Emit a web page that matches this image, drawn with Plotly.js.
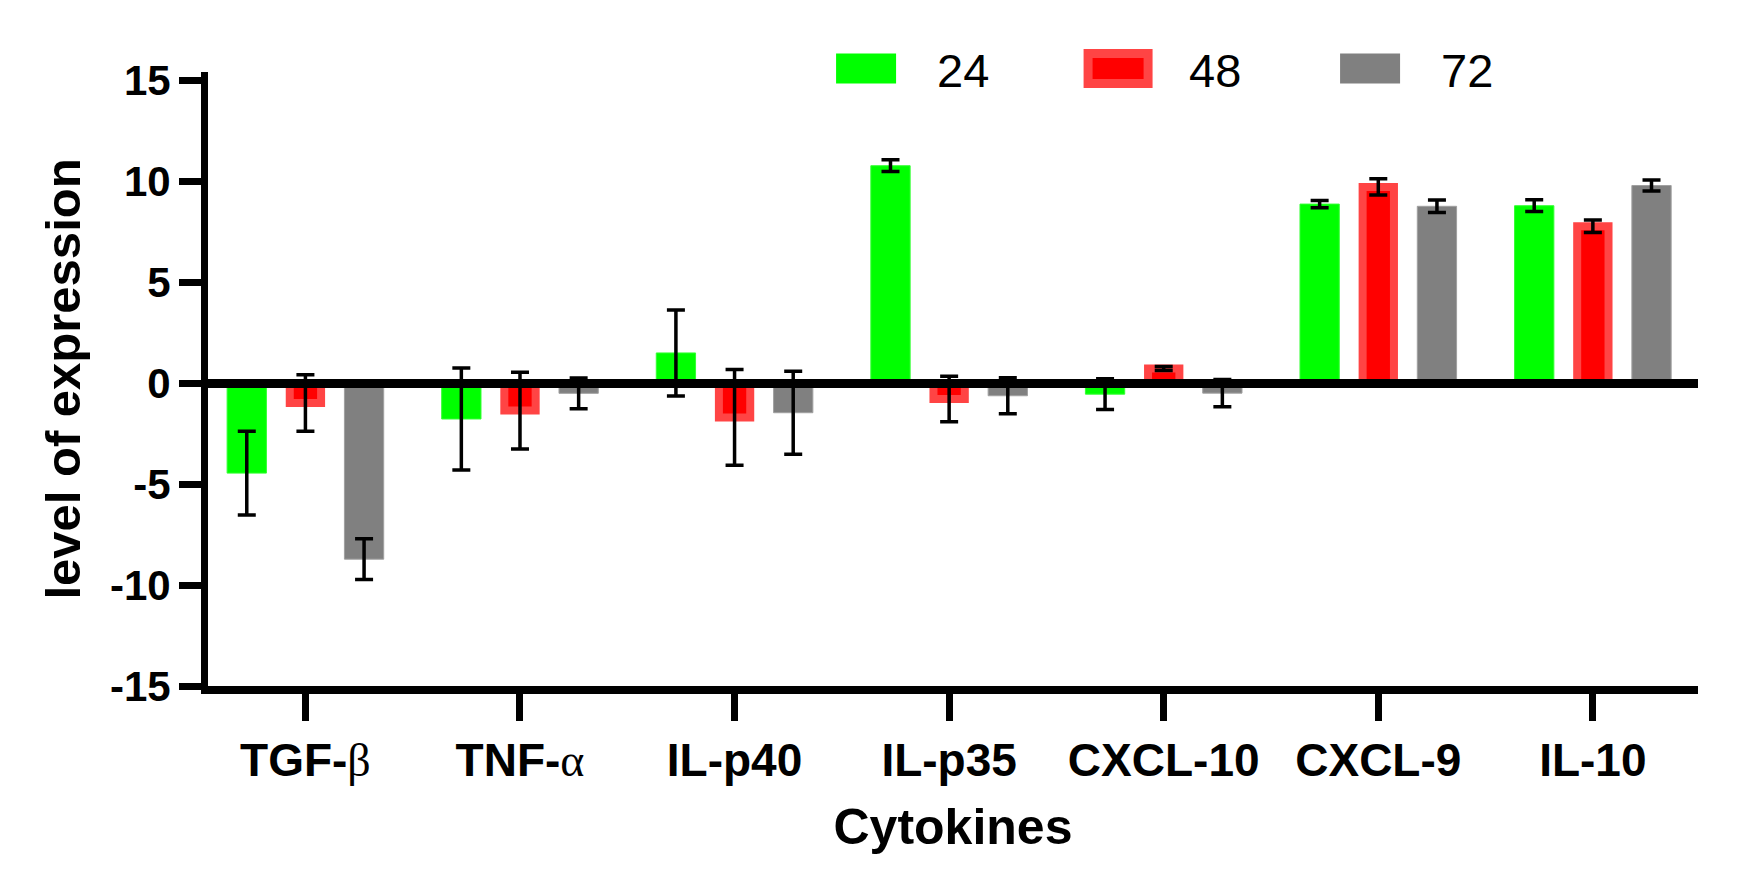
<!DOCTYPE html>
<html>
<head>
<meta charset="utf-8">
<script src="https://cdn.plot.ly/plotly-3.0.1.min.js"></script>
<style>
  html, body { margin: 0; padding: 0; background: #ffffff; }
  #chart { width: 1737px; height: 874px; }
</style>
</head>
<body>
<div id="chart"></div>
<script>
// ---- data ----
const categories = ['TGF-β', 'TNF-α', 'IL-p40', 'IL-p35', 'CXCL-10', 'CXCL-9', 'IL-10'];
const tickLabels = [
  'TGF-<span style="font-family:Liberation Serif;font-weight:normal">β</span>',
  'TNF-<span style="font-family:Liberation Serif;font-weight:normal">α</span>',
  'IL-p40', 'IL-p35', 'CXCL-10', 'CXCL-9', 'IL-10'
];
const seriesNames = ['24', '48', '72'];
const values24 = [-4.46, -1.78, 1.49, 10.76, -0.55, 8.86, 8.78];
const errors24 = [2.07, 2.52, 2.13, 0.29, 0.76, 0.18, 0.29];
const values48 = [-0.99, -1.36, -1.70, -0.79, 0.72, 9.71, 7.76];
const errors48 = [1.40, 1.90, 2.37, 1.13, 0.10, 0.40, 0.31];
const values72 = [-8.72, -0.51, -1.47, -0.63, -0.50, 8.75, 9.78];
const errors72 = [1.01, 0.76, 2.05, 0.89, 0.67, 0.31, 0.27];
const yTicks = [-15, -10, -5, 0, 5, 10, 15];

const FONT = 'Liberation Sans, Arial, Helvetica, sans-serif';
const errStyle = (arr) => ({type: 'data', array: arr, visible: true, color: '#000000', thickness: 3.5, width: 9});

const data = [
  {type: 'bar', name: seriesNames[0], x: categories, y: values24, error_y: errStyle(errors24),
   marker: {color: '#00ff00', line: {color: '#33ff33', width: 1}}},
  {type: 'bar', name: seriesNames[1], x: categories, y: values48, error_y: errStyle(errors48),
   width: 0.146,
   marker: {color: '#ff0000', line: {color: '#ff4444', width: 8}}},
  {type: 'bar', name: seriesNames[2], x: categories, y: values72, error_y: errStyle(errors72),
   marker: {color: '#808080', line: {color: '#a0a0a0', width: 1}}}
];

const layout = {
  width: 1737, height: 874,
  margin: {l: 208, r: 39, t: 72, b: 188, pad: 0},
  paper_bgcolor: '#ffffff', plot_bgcolor: '#ffffff',
  font: {family: FONT, color: '#000000'},
  barmode: 'group', bargap: 0.18, bargroupgap: 0.33,
  showlegend: true,
  legend: {
    orientation: 'h', x: 0.4175, xanchor: 'left', y: 1.005, yanchor: 'middle',
    font: {family: FONT, size: 47, color: '#000000'},
    itemwidth: 97, entrywidth: 140, entrywidthmode: 'pixels',
    bgcolor: 'rgba(0,0,0,0)', borderwidth: 0, traceorder: 'normal'
  },
  xaxis: {
    type: 'category', range: [-0.454, 6.49], tickvals: categories, ticktext: tickLabels,
    showline: true, linewidth: 8, linecolor: '#000000', mirror: false,
    ticks: 'outside', ticklen: 27, tickwidth: 7, tickcolor: '#000000',
    tickfont: {family: FONT, size: 46, weight: 'bold', color: '#000000'},
    showgrid: false, zeroline: false, automargin: false,
    title: {text: 'Cytokines', font: {family: FONT, size: 50, weight: 'bold', color: '#000000'}, standoff: 27}
  },
  yaxis: {
    range: [-15, 15.4], tickvals: yTicks, ticktext: yTicks.map(String),
    showline: true, linewidth: 7, linecolor: '#000000',
    ticks: 'outside', ticklen: 22, tickwidth: 7, tickcolor: '#000000',
    tickfont: {family: FONT, size: 42, weight: 'bold', color: '#000000'},
    showgrid: false, zeroline: true, zerolinewidth: 9, zerolinecolor: '#000000',
    zerolinelayer: 'above traces', automargin: false,
    title: {text: 'level of expression', font: {family: FONT, size: 49, weight: 'bold', color: '#000000'}, standoff: 16}
  }
};

Plotly.newPlot('chart', data, layout, {staticPlot: true, displayModeBar: false}).then(function (gd) {
  // enlarge the legend swatches to the wide rectangles of the reference
  const strokes = [0, 9, 0];
  gd.querySelectorAll('.legend .traces').forEach(function (item, i) {
    item.querySelectorAll('.legendpoints path').forEach(function (p) {
      p.setAttribute('d', 'M30,15H-30V-15H30Z');
      p.setAttribute('transform', 'translate(36,0)');
      p.style.strokeWidth = strokes[i] + 'px';
    });
  });
});
</script>
</body>
</html>
